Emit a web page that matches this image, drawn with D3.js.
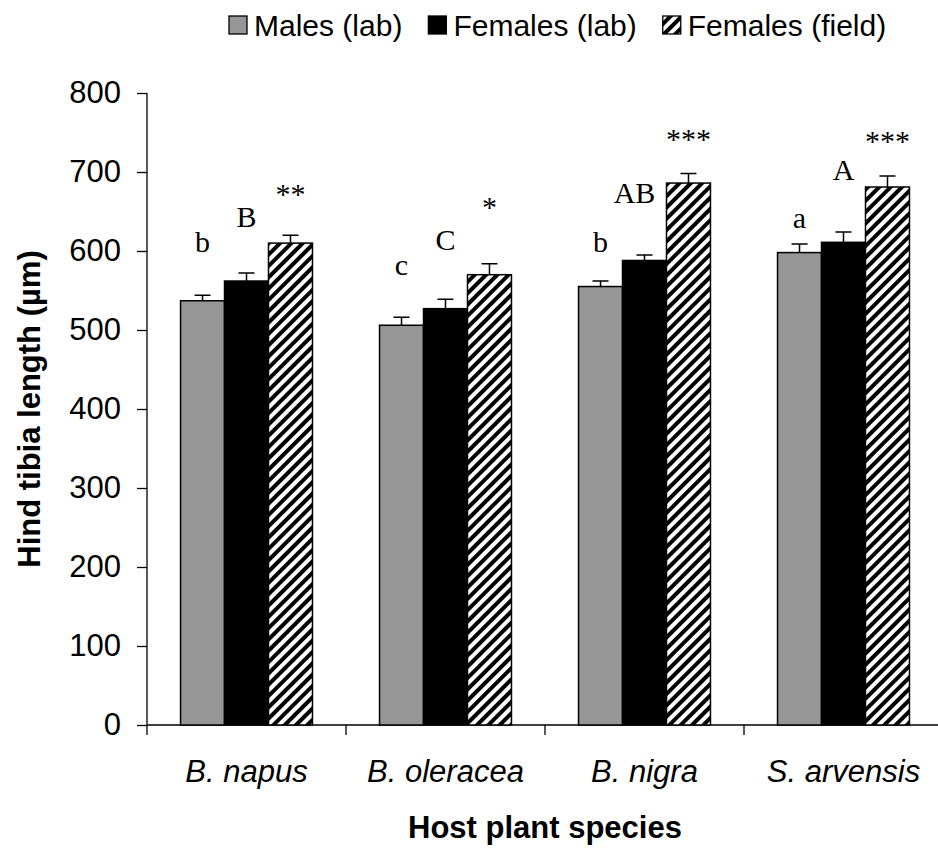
<!DOCTYPE html>
<html>
<head>
<meta charset="utf-8">
<script src="https://cdn.jsdelivr.net/npm/d3@7/dist/d3.min.js"></script>
<style>
  html, body { margin: 0; padding: 0; background: #fff; }
  svg { display: block; }
</style>
</head>
<body>
<script>
// ---------- data ----------
const categories = ["B. napus", "B. oleracea", "B. nigra", "S. arvensis"];
const seriesNames = ["Males (lab)", "Females (lab)", "Females (field)"];
const malesLab = [537, 506, 555, 598];
const malesLabErr = [7, 10, 7, 11];
const femalesLab = [562, 527, 588, 611];
const femalesLabErr = [10, 12, 7, 13];
const femalesField = [610, 570, 686, 681];
const femalesFieldErr = [10, 14, 12, 14];
const yTicks = [0, 100, 200, 300, 400, 500, 600, 700, 800];
// significance annotations and the value height (µm) at which each sits
const maleLetters = ["b", "c", "b", "a"];
const maleLetterAt = [599, 570, 599, 629];
const femaleLetters = ["B", "C", "AB", "A"];
const femaleLetterAt = [630, 601, 661, 690];
const fieldStars = ["**", "*", "***", "***"];
const fieldStarsAt = [659, 643, 729, 726];

// ---------- layout ----------
const W = 938, H = 850;
const plot = { left: 147, right: 943, top: 93, bottom: 725 };
const SANS = "Arial, 'Liberation Sans', sans-serif";

const svg = d3.select("body").append("svg").attr("width", W).attr("height", H);

const defs = svg.append("defs");
const pat = defs.append("pattern")
  .attr("id", "hatch").attr("patternUnits", "userSpaceOnUse")
  .attr("width", 8).attr("height", 8)
  .attr("patternTransform", "rotate(45)");
pat.append("rect").attr("width", 8).attr("height", 8).attr("fill", "#fff");
pat.append("line").attr("x1", 2).attr("y1", -2).attr("x2", 2).attr("y2", 10)
  .attr("stroke", "#000").attr("stroke-width", 4);

const x0 = d3.scaleBand().domain(categories)
  .range([plot.left, plot.right]).paddingInner(0.337).paddingOuter(0.1685);
const x1 = d3.scaleBand().domain(seriesNames).range([0, x0.bandwidth()]);
const y = d3.scaleLinear().domain([0, 800]).range([plot.bottom, plot.top]);

const fills = ["#969696", "#000000", "url(#hatch)"];
const seriesVals = [malesLab, femalesLab, femalesField];
const seriesErr = [malesLabErr, femalesLabErr, femalesFieldErr];

// ---------- axes ----------
const yAxis = svg.append("g").attr("transform", `translate(${plot.left},0)`)
  .call(d3.axisLeft(y).tickValues(yTicks).tickSize(10).tickPadding(16).tickSizeOuter(0));
yAxis.select(".domain").remove();
yAxis.selectAll(".tick line").attr("stroke", "#000").attr("stroke-width", 1.3);
yAxis.selectAll(".tick text").attr("font-family", SANS)
  .attr("font-size", 31).attr("fill", "#000");
svg.append("line").attr("x1", plot.left).attr("x2", plot.left)
  .attr("y1", plot.top).attr("y2", plot.bottom + 10)
  .attr("stroke", "#000").attr("stroke-width", 1.3);

// x axis line + category boundary ticks
svg.append("line").attr("x1", plot.left).attr("x2", plot.right)
  .attr("y1", plot.bottom).attr("y2", plot.bottom)
  .attr("stroke", "#000").attr("stroke-width", 1.3);
const bounds = categories.map(c => x0(c) - x0.step() * x0.paddingOuter());
svg.selectAll(".xtick").data(bounds.slice(1)).enter().append("line")
  .attr("x1", d => d).attr("x2", d => d)
  .attr("y1", plot.bottom).attr("y2", plot.bottom + 10)
  .attr("stroke", "#000").attr("stroke-width", 1.3);

svg.selectAll(".xlab").data(categories).enter().append("text")
  .attr("x", d => x0(d) + x0.bandwidth() / 2).attr("y", 782)
  .attr("text-anchor", "middle")
  .attr("font-family", SANS)
  .attr("font-style", "italic").attr("font-size", 31).text(d => d);

svg.append("text").attr("x", 545).attr("y", 838)
  .attr("text-anchor", "middle")
  .attr("font-family", SANS)
  .attr("font-weight", "bold").attr("font-size", 31).text("Host plant species");

svg.append("text")
  .attr("transform", `translate(40,${(plot.top + plot.bottom) / 2}) rotate(-90)`)
  .attr("text-anchor", "middle")
  .attr("font-family", SANS)
  .attr("font-weight", "bold").attr("font-size", 31).text("Hind tibia length (µm)");

// ---------- bars ----------
seriesNames.forEach((s, si) => {
  const g = svg.append("g");
  const rows = categories.map((c, i) => ({ c, v: seriesVals[si][i], e: seriesErr[si][i] }));
  g.selectAll("rect").data(rows).enter().append("rect")
    .attr("x", d => x0(d.c) + x1(s))
    .attr("y", d => y(d.v))
    .attr("width", x1.bandwidth())
    .attr("height", d => y(0) - y(d.v))
    .attr("fill", fills[si]).attr("stroke", "#000").attr("stroke-width", 1.5);
  g.selectAll(".eb").data(rows).enter().append("path")
    .attr("d", d => {
      const cx = x0(d.c) + x1(s) + x1.bandwidth() / 2;
      return `M${cx},${y(d.v)}V${y(d.v + d.e)}M${cx - 8},${y(d.v + d.e)}H${cx + 8}`;
    })
    .attr("stroke", "#000").attr("stroke-width", 1.5).attr("fill", "none");
});

// ---------- annotations ----------
const ann = [
  { labels: maleLetters, at: maleLetterAt, s: seriesNames[0] },
  { labels: femaleLetters, at: femaleLetterAt, s: seriesNames[1] },
  { labels: fieldStars, at: fieldStarsAt, s: seriesNames[2] }
];
ann.forEach(a => {
  svg.append("g").selectAll("text").data(categories).enter().append("text")
    .attr("x", (c, i) => x0(c) + x1(a.s) + x1.bandwidth() / 2 - (a.labels[i] === "AB" ? 10 : 0))
    .attr("y", (c, i) => y(a.at[i]))
    .attr("text-anchor", "middle")
    .attr("font-family", "'Times New Roman', 'Liberation Serif', serif")
    .attr("font-size", 30).text((c, i) => a.labels[i]);
});

// ---------- legend ----------
const legend = svg.append("g").attr("transform", "translate(229,25)");
let lx = 0;
seriesNames.forEach((s, si) => {
  legend.append("rect").attr("x", lx).attr("y", -9).attr("width", 18).attr("height", 18)
    .attr("fill", fills[si]).attr("stroke", "#000").attr("stroke-width", 1.3);
  const t = legend.append("text").attr("x", lx + 25).attr("y", 11)
    .attr("font-family", SANS)
    .attr("font-size", 30).text(s);
  lx += 25 + t.node().getComputedTextLength() + 26;
});
</script>
</body>
</html>
